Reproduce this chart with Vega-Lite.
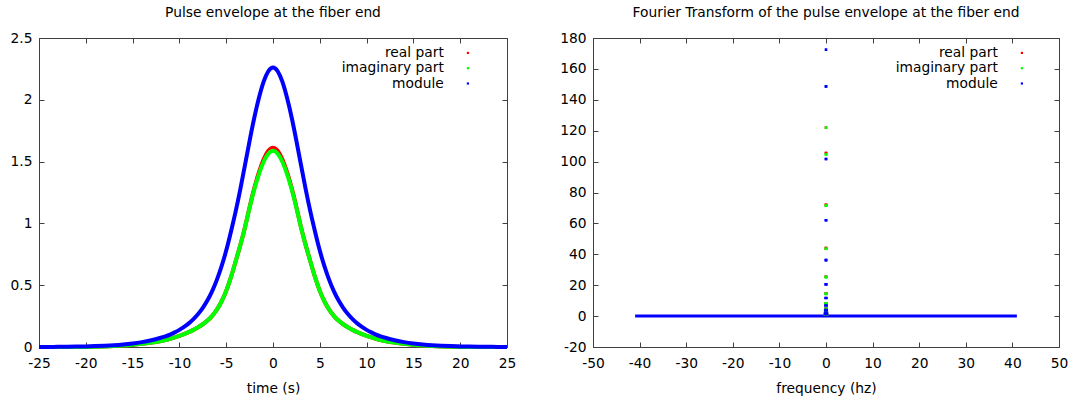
{
  "$schema": "https://vega.github.io/schema/vega-lite/v6.json",
  "padding": {"left": 9, "top": 5, "right": 5, "bottom": 5},
  "background": "white",
  "datasets": {
    "pulse": [
      {"t": -25, "re": 0, "im": 0, "mod": 0},
      {"t": -24, "re": 0, "im": 0, "mod": 0.001},
      {"t": -23, "re": 0, "im": 0, "mod": 0.001},
      {"t": -22, "re": 0, "im": 0, "mod": 0.002},
      {"t": -21, "re": 0, "im": 0, "mod": 0.003},
      {"t": -20, "re": 0.001, "im": 0.001, "mod": 0.005},
      {"t": -19, "re": 0.002, "im": 0.002, "mod": 0.007},
      {"t": -18, "re": 0.004, "im": 0.004, "mod": 0.01},
      {"t": -17, "re": 0.007, "im": 0.007, "mod": 0.014},
      {"t": -16, "re": 0.011, "im": 0.011, "mod": 0.02},
      {"t": -15, "re": 0.017, "im": 0.017, "mod": 0.028},
      {"t": -14, "re": 0.025, "im": 0.025, "mod": 0.039},
      {"t": -13, "re": 0.035, "im": 0.035, "mod": 0.054},
      {"t": -12, "re": 0.047, "im": 0.047, "mod": 0.074},
      {"t": -11.5, "re": 0.056, "im": 0.056, "mod": 0.086},
      {"t": -11, "re": 0.066, "im": 0.066, "mod": 0.1},
      {"t": -10.5, "re": 0.077, "im": 0.077, "mod": 0.118},
      {"t": -10, "re": 0.09, "im": 0.09, "mod": 0.138},
      {"t": -9.5, "re": 0.104, "im": 0.104, "mod": 0.162},
      {"t": -9, "re": 0.12, "im": 0.12, "mod": 0.19},
      {"t": -8.5, "re": 0.138, "im": 0.138, "mod": 0.225},
      {"t": -8, "re": 0.16, "im": 0.16, "mod": 0.265},
      {"t": -7.5, "re": 0.183, "im": 0.183, "mod": 0.315},
      {"t": -7, "re": 0.212, "im": 0.212, "mod": 0.375},
      {"t": -6.5, "re": 0.25, "im": 0.25, "mod": 0.45},
      {"t": -6, "re": 0.3, "im": 0.3, "mod": 0.54},
      {"t": -5.5, "re": 0.365, "im": 0.365, "mod": 0.65},
      {"t": -5, "re": 0.45, "im": 0.45, "mod": 0.775},
      {"t": -4.5, "re": 0.56, "im": 0.56, "mod": 0.93},
      {"t": -4, "re": 0.69, "im": 0.69, "mod": 1.09},
      {"t": -3.5, "re": 0.82, "im": 0.82, "mod": 1.27},
      {"t": -3, "re": 0.962, "im": 0.96, "mod": 1.47},
      {"t": -2.5, "re": 1.135, "im": 1.13, "mod": 1.67},
      {"t": -2, "re": 1.29, "im": 1.28, "mod": 1.86},
      {"t": -1.5, "re": 1.418, "im": 1.403, "mod": 2.02},
      {"t": -1, "re": 1.525, "im": 1.505, "mod": 2.155},
      {"t": -0.5, "re": 1.595, "im": 1.57, "mod": 2.24},
      {"t": 0, "re": 1.622, "im": 1.597, "mod": 2.272},
      {"t": 0.5, "re": 1.595, "im": 1.57, "mod": 2.24},
      {"t": 1, "re": 1.525, "im": 1.505, "mod": 2.155},
      {"t": 1.5, "re": 1.418, "im": 1.403, "mod": 2.02},
      {"t": 2, "re": 1.29, "im": 1.28, "mod": 1.86},
      {"t": 2.5, "re": 1.135, "im": 1.13, "mod": 1.67},
      {"t": 3, "re": 0.962, "im": 0.96, "mod": 1.47},
      {"t": 3.5, "re": 0.82, "im": 0.82, "mod": 1.27},
      {"t": 4, "re": 0.69, "im": 0.69, "mod": 1.09},
      {"t": 4.5, "re": 0.56, "im": 0.56, "mod": 0.93},
      {"t": 5, "re": 0.45, "im": 0.45, "mod": 0.775},
      {"t": 5.5, "re": 0.365, "im": 0.365, "mod": 0.65},
      {"t": 6, "re": 0.3, "im": 0.3, "mod": 0.54},
      {"t": 6.5, "re": 0.25, "im": 0.25, "mod": 0.45},
      {"t": 7, "re": 0.212, "im": 0.212, "mod": 0.375},
      {"t": 7.5, "re": 0.183, "im": 0.183, "mod": 0.315},
      {"t": 8, "re": 0.16, "im": 0.16, "mod": 0.265},
      {"t": 8.5, "re": 0.138, "im": 0.138, "mod": 0.225},
      {"t": 9, "re": 0.12, "im": 0.12, "mod": 0.19},
      {"t": 9.5, "re": 0.104, "im": 0.104, "mod": 0.162},
      {"t": 10, "re": 0.09, "im": 0.09, "mod": 0.138},
      {"t": 10.5, "re": 0.077, "im": 0.077, "mod": 0.118},
      {"t": 11, "re": 0.066, "im": 0.066, "mod": 0.1},
      {"t": 11.5, "re": 0.056, "im": 0.056, "mod": 0.086},
      {"t": 12, "re": 0.047, "im": 0.047, "mod": 0.074},
      {"t": 13, "re": 0.035, "im": 0.035, "mod": 0.054},
      {"t": 14, "re": 0.025, "im": 0.025, "mod": 0.039},
      {"t": 15, "re": 0.017, "im": 0.017, "mod": 0.028},
      {"t": 16, "re": 0.011, "im": 0.011, "mod": 0.02},
      {"t": 17, "re": 0.007, "im": 0.007, "mod": 0.014},
      {"t": 18, "re": 0.004, "im": 0.004, "mod": 0.01},
      {"t": 19, "re": 0.002, "im": 0.002, "mod": 0.007},
      {"t": 20, "re": 0.001, "im": 0.001, "mod": 0.005},
      {"t": 21, "re": 0, "im": 0, "mod": 0.003},
      {"t": 22, "re": 0, "im": 0, "mod": 0.002},
      {"t": 23, "re": 0, "im": 0, "mod": 0.001},
      {"t": 24, "re": 0, "im": 0, "mod": 0.001},
      {"t": 25, "re": 0, "im": 0, "mod": 0}
    ],
    "ft_spikes": [
      {"f": 0, "re": 122, "im": 122, "mod": 172.5},
      {"f": -0.02, "re": 105.6, "im": 104.7, "mod": 148.7},
      {"f": 0.02, "re": 105.6, "im": 104.7, "mod": 148.7},
      {"f": -0.04, "re": 72, "im": 71.5, "mod": 101.7},
      {"f": 0.04, "re": 72, "im": 71.5, "mod": 101.7},
      {"f": -0.06, "re": 44, "im": 43.6, "mod": 62},
      {"f": 0.06, "re": 44, "im": 43.6, "mod": 62},
      {"f": -0.08, "re": 25.5, "im": 25.2, "mod": 36.2},
      {"f": 0.08, "re": 25.5, "im": 25.2, "mod": 36.2},
      {"f": -0.1, "re": 14.6, "im": 14.4, "mod": 20.5},
      {"f": 0.1, "re": 14.6, "im": 14.4, "mod": 20.5},
      {"f": -0.12, "re": 8.3, "im": 8.2, "mod": 11.7},
      {"f": 0.12, "re": 8.3, "im": 8.2, "mod": 11.7},
      {"f": -0.14, "re": 4.9, "im": 4.8, "mod": 6.9},
      {"f": 0.14, "re": 4.9, "im": 4.8, "mod": 6.9},
      {"f": -0.16, "re": 2.8, "im": 2.7, "mod": 3.9},
      {"f": 0.16, "re": 2.8, "im": 2.7, "mod": 3.9},
      {"f": -0.18, "re": 1.6, "im": 1.5, "mod": 2.2},
      {"f": 0.18, "re": 1.6, "im": 1.5, "mod": 2.2},
      {"f": -0.2, "re": 0.9, "im": 0.9, "mod": 1.3},
      {"f": 0.2, "re": 0.9, "im": 0.9, "mod": 1.3}
    ],
    "ft_base": [
      {"f": -40.96, "re": 0, "im": 0, "mod": 0},
      {"f": -20, "re": 0, "im": 0, "mod": 0},
      {"f": -0.25, "re": 0, "im": 0, "mod": 0},
      {"f": 0.25, "re": 0, "im": 0, "mod": 0},
      {"f": 20, "re": 0, "im": 0, "mod": 0},
      {"f": 40.96, "re": 0, "im": 0, "mod": 0}
    ]
  },
  "spacing": 42,
  "resolve": {"scale": {"color": "independent"}, "legend": {"color": "independent"}},
  "hconcat": [
    {
      "width": 468,
      "height": 309,
      "title": {"text": "Pulse envelope at the fiber end", "fontSize": 13.8, "fontWeight": "normal", "font": "DejaVu Sans", "color": "#000000", "offset": 11},
      "data": {"name": "pulse"},
      "resolve": {"axis": {"x": "independent", "y": "independent"}},
      "layer": [
        {
          "mark": {"type": "line", "interpolate": "basis", "strokeWidth": 4},
          "encoding": {
            "x": {"field": "t", "type": "quantitative", "scale": {"domain": [-25, 25], "nice": false, "zero": false},
                  "axis": {"orient": "bottom", "title": "time (s)", "values": [-25, -20, -15, -10, -5, 0, 5, 10, 15, 20, 25], "labelExpr": "replace(datum.label, '\u2212', '-')"}},
            "y": {"field": "re", "type": "quantitative", "scale": {"domain": [0, 2.5], "nice": false},
                  "axis": {"orient": "left", "title": null, "format": "~g", "values": [0, 0.5, 1, 1.5, 2, 2.5]}},
            "color": {"datum": "real part", "type": "nominal",
                      "scale": {"domain": ["real part", "imaginary part", "module"], "range": ["#ff0000", "#00ff00", "#0000ff"]},
                      "legend": {"orient": "none", "legendX": 422, "legendY": 8}}
          }
        },
        {
          "mark": {"type": "line", "interpolate": "basis", "strokeWidth": 4},
          "encoding": {
            "x": {"field": "t", "type": "quantitative",
                  "axis": {"orient": "top", "title": null, "labels": false, "values": [-25, -20, -15, -10, -5, 0, 5, 10, 15, 20, 25]}},
            "y": {"field": "im", "type": "quantitative",
                  "axis": {"orient": "right", "title": null, "labels": false, "values": [0, 0.5, 1, 1.5, 2, 2.5]}},
            "color": {"datum": "imaginary part", "type": "nominal"}
          }
        },
        {
          "mark": {"type": "line", "interpolate": "basis", "strokeWidth": 4},
          "encoding": {
            "x": {"field": "t", "type": "quantitative", "axis": null},
            "y": {"field": "mod", "type": "quantitative", "axis": null},
            "color": {"datum": "module", "type": "nominal"}
          }
        }
      ]
    },
    {
      "width": 466,
      "height": 309,
      "title": {"text": "Fourier Transform of the pulse envelope at the fiber end", "fontSize": 13.8, "fontWeight": "normal", "font": "DejaVu Sans", "color": "#000000", "offset": 11},
      "resolve": {"axis": {"x": "independent", "y": "independent"}},
      "layer": [
        {
          "data": {"name": "ft_base"},
          "mark": {"type": "line", "strokeWidth": 3},
          "encoding": {
            "x": {"field": "f", "type": "quantitative", "scale": {"domain": [-50, 50], "nice": false, "zero": false}, "axis": null},
            "y": {"field": "mod", "type": "quantitative", "scale": {"domain": [-20, 180], "nice": false}, "axis": null},
            "color": {"datum": "module", "type": "nominal",
                      "scale": {"domain": ["real part", "imaginary part", "module"], "range": ["#ff0000", "#00ff00", "#0000ff"]},
                      "legend": {"orient": "none", "legendX": 422, "legendY": 8}}
          }
        },
        {
          "data": {"name": "ft_spikes"},
          "mark": {"type": "point", "shape": "square", "filled": false, "size": 2, "strokeWidth": 1.2, "opacity": 1},
          "encoding": {
            "x": {"field": "f", "type": "quantitative",
                  "axis": {"orient": "bottom", "title": "frequency (hz)", "values": [-50, -40, -30, -20, -10, 0, 10, 20, 30, 40, 50], "labelExpr": "replace(datum.label, '\u2212', '-')"}},
            "y": {"field": "re", "type": "quantitative",
                  "axis": {"orient": "left", "title": null, "values": [-20, 0, 20, 40, 60, 80, 100, 120, 140, 160, 180], "labelExpr": "replace(datum.label, '\u2212', '-')"}},
            "color": {"datum": "real part", "type": "nominal"}
          }
        },
        {
          "data": {"name": "ft_spikes"},
          "mark": {"type": "point", "shape": "square", "filled": false, "size": 2, "strokeWidth": 1.2, "opacity": 1},
          "encoding": {
            "x": {"field": "f", "type": "quantitative",
                  "axis": {"orient": "top", "title": null, "labels": false, "values": [-50, -40, -30, -20, -10, 0, 10, 20, 30, 40, 50]}},
            "y": {"field": "im", "type": "quantitative",
                  "axis": {"orient": "right", "title": null, "labels": false, "values": [-20, 0, 20, 40, 60, 80, 100, 120, 140, 160, 180]}},
            "color": {"datum": "imaginary part", "type": "nominal"}
          }
        },
        {
          "data": {"name": "ft_spikes"},
          "mark": {"type": "point", "shape": "square", "filled": false, "size": 2, "strokeWidth": 1.2, "opacity": 1},
          "encoding": {
            "x": {"field": "f", "type": "quantitative", "axis": null},
            "y": {"field": "mod", "type": "quantitative", "axis": null},
            "color": {"datum": "module", "type": "nominal"}
          }
        }
      ]
    }
  ],
  "config": {
    "font": "DejaVu Sans",
    "view": {"stroke": "#404040", "strokeWidth": 1},
    "axis": {"grid": false, "domain": false, "ticks": true, "tickColor": "#404040", "tickSize": -5, "tickWidth": 1,
             "labelFont": "DejaVu Sans", "labelFontSize": 13.8, "labelColor": "#000000", "labelFlush": false, "labelOverlap": false,
             "titleFont": "DejaVu Sans", "titleFontSize": 13.8, "titleFontWeight": "normal", "titleColor": "#000000"},
    "axisX": {"labelPadding": 14, "titlePadding": 12},
    "axisY": {"labelPadding": 12},
    "legend": {"title": null, "symbolType": "square", "symbolSize": 1, "symbolStrokeWidth": 1.2, "padding": 0,
               "labelFont": "DejaVu Sans", "labelFontSize": 13.8, "labelColor": "#000000", "labelAlign": "right", "labelOffset": -31, "rowPadding": 0.3}
  }
}
